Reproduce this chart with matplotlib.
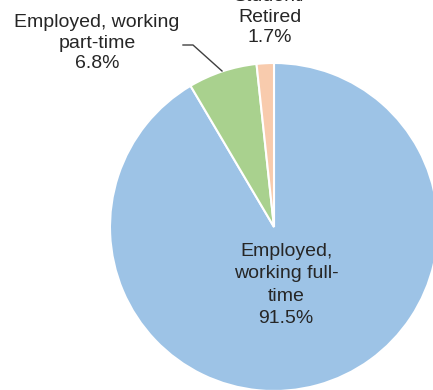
import matplotlib
matplotlib.use("Agg")
import matplotlib.pyplot as plt

categories = ["Employed, working full-time", "Employed, working part-time", "Student/\nRetired"]
label_texts = ["Employed,\nworking full-\ntime", "Employed, working\npart-time", "Student/\nRetired"]
shares = [91.5, 6.8, 1.7]
colors = ["#9DC3E6", "#A9D18E", "#F8CBAD"]

W, H = 433, 390
fig = plt.figure(figsize=(W / 100, H / 100), dpi=100)
ax = fig.add_axes([0, 0, 1, 1])

cx, cy, r = 274, H - 227, 164
ax.pie(shares, colors=colors, startangle=90, counterclock=False,
       center=(cx, cy), radius=r, frame=True,
       wedgeprops=dict(edgecolor="white", linewidth=1.5))
ax.set_xlim(0, W)
ax.set_ylim(0, H)
ax.set_aspect("equal")
ax.axis("off")

font = dict(family="Liberation Sans", fontsize=14, color="#262626",
            ha="center", va="center")

# in-slice label for the large wedge
ax.text(286, H - 285, f"{label_texts[0]}\n{shares[0]}%", linespacing=1.42, **font)
# outside labels
ax.text(97, H - 43, f"{label_texts[1]}\n{shares[1]}%", linespacing=1.27, **font)
ax.text(270, H - 17, f"{label_texts[2]}\n{shares[2]}%", linespacing=1.27, **font)

# leader line for the part-time slice
ax.plot([183, 193, 222], [H - 45, H - 45, H - 71], color="#404040", linewidth=1)

fig.savefig("out.png", dpi=100)
